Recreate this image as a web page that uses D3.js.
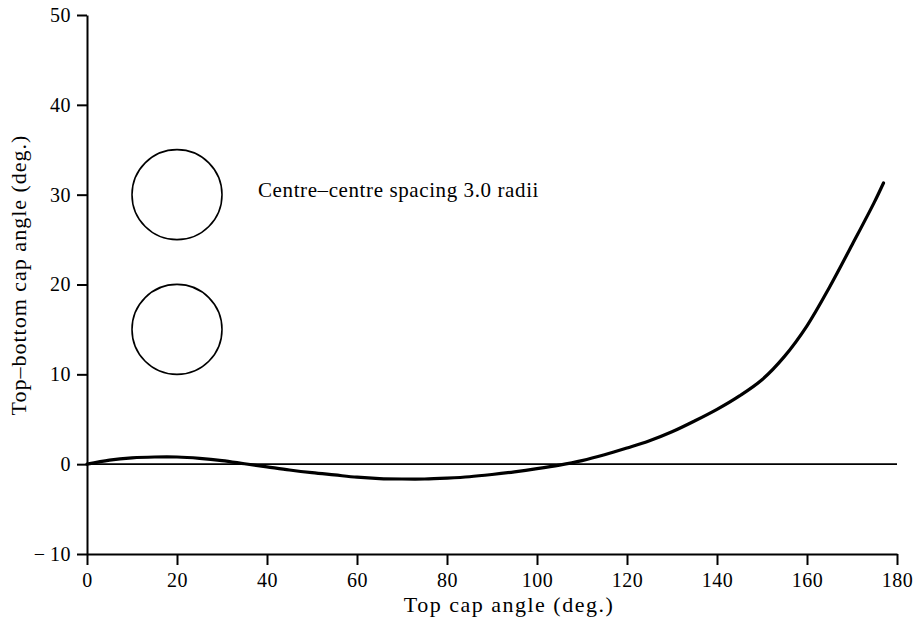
<!DOCTYPE html>
<html>
<head>
<meta charset="utf-8">
<script src="https://cdn.jsdelivr.net/npm/d3@7"></script>
<style>
  body { margin: 0; background: #fff; }
</style>
</head>
<body>
<script>
// values
var capAngle = [0, 5, 10, 15, 20, 25, 30, 35, 40, 45, 50, 55, 60, 65, 70, 75, 80, 85, 90,
                95, 100, 105, 110, 115, 120, 125, 130, 135, 140, 145, 150, 155, 160, 165, 170, 175, 177];
var bottomAngle = [0, 0.45, 0.7, 0.8, 0.8, 0.65, 0.4, 0.05, -0.3, -0.65, -0.95, -1.2, -1.45, -1.6, -1.65, -1.65, -1.55, -1.4, -1.15,
                   -0.85, -0.5, -0.1, 0.4, 1.05, 1.8, 2.6, 3.6, 4.8, 6.1, 7.6, 9.4, 12.0, 15.4, 19.7, 24.4, 29.2, 31.3];
var xTicks = [0, 20, 40, 60, 80, 100, 120, 140, 160, 180];
var yTicks = [-10, 0, 10, 20, 30, 40, 50];
// sketch of the two spheres, centres in data units
var sphereCentres = [[20, 30], [20, 15]];
var sphereRadius = 10; // x units
var note = "Centre\u2013centre spacing 3.0 radii";

var serif = "'Liberation Serif', 'DejaVu Serif', 'Times New Roman', serif";

var width = 919, height = 626;
var margin = {left: 87, right: 22, top: 15, bottom: 72};

var svg = d3.select("body").append("svg")
    .attr("width", width)
    .attr("height", height);

var x = d3.scaleLinear().domain([0, 180]).range([margin.left, width - margin.right]);
var y = d3.scaleLinear().domain([-10, 50]).range([height - margin.bottom, margin.top]);

// zero line
svg.append("line")
    .attr("x1", x(0)).attr("x2", x(180))
    .attr("y1", y(0)).attr("y2", y(0))
    .attr("stroke", "#000").attr("stroke-width", 1.6);

var xAxis = svg.append("g")
    .attr("transform", "translate(0," + y(-10) + ")")
    .call(d3.axisBottom(x).tickValues(xTicks).tickSize(11).tickPadding(8).tickSizeOuter(0));

var yAxis = svg.append("g")
    .attr("transform", "translate(" + x(0) + ",0)")
    .call(d3.axisLeft(y).tickValues(yTicks).tickSize(10).tickPadding(6).tickSizeOuter(0)
      .tickFormat(function(d){ return d < 0 ? "\u2212\u2009" + Math.abs(d) : d; }));

[xAxis, yAxis].forEach(function(g){
  g.attr("font-family", null).attr("font-size", null);
  g.selectAll("path, line").attr("stroke", "#000").attr("stroke-width", 2);
  g.selectAll("text")
    .style("font-family", serif)
    .style("font-size", "20px")
    .style("letter-spacing", "0.5px")
    .attr("fill", "#000");
});

// curve
var line = d3.line()
    .x(function(d){ return x(d[0]); })
    .y(function(d){ return y(d[1]); })
    .curve(d3.curveCatmullRom);

svg.append("path")
    .datum(d3.zip(capAngle, bottomAngle))
    .attr("fill", "none")
    .attr("stroke", "#000")
    .attr("stroke-width", 3.2)
    .attr("stroke-linecap", "round")
    .attr("d", line);

// spheres
svg.selectAll("circle.sphere")
    .data(sphereCentres).enter()
    .append("circle")
    .attr("class", "sphere")
    .attr("cx", function(d){ return x(d[0]); })
    .attr("cy", function(d){ return y(d[1]); })
    .attr("r", x(sphereRadius) - x(0))
    .attr("fill", "none")
    .attr("stroke", "#000")
    .attr("stroke-width", 1.6);

svg.append("text")
    .attr("x", x(38))
    .attr("y", y(30) + 2)
    .style("font-family", serif)
    .style("font-size", "21px")
    .style("letter-spacing", "0.6px")
    .text(note);

// axis titles
svg.append("text")
    .attr("x", 509)
    .attr("y", 612)
    .attr("text-anchor", "middle")
    .style("font-family", serif)
    .style("font-size", "22px")
    .style("letter-spacing", "1.5px")
    .text("Top cap angle (deg.)");

svg.append("text")
    .attr("transform", "translate(26,275) rotate(-90)")
    .attr("text-anchor", "middle")
    .style("font-family", serif)
    .style("font-size", "22px")
    .style("letter-spacing", "1px")
    .text("Top\u2013bottom cap angle (deg.)");
</script>
</body>
</html>
